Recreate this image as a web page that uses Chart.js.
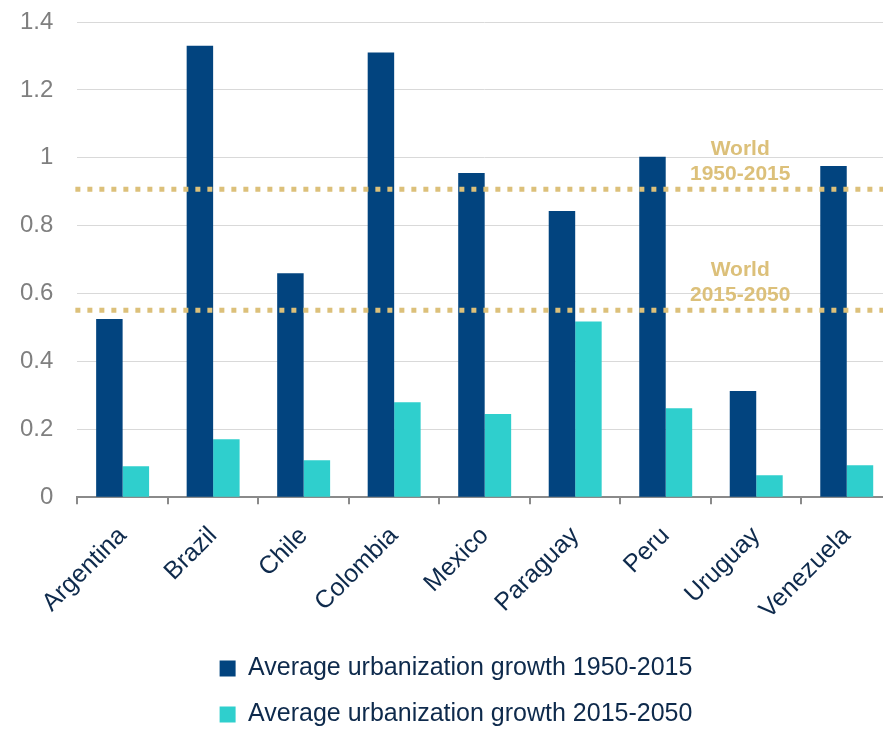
<!DOCTYPE html>
<html>
<head>
<meta charset="utf-8">
<script src="https://cdn.jsdelivr.net/npm/chart.js@4"></script>
<style>
	html, body { margin: 0; padding: 0; background: #fff; overflow: hidden; }
	#wrap { width: 900px; height: 729px; }
</style>
</head>
<body>
<div id="wrap"><canvas id="myChart"></canvas></div>
<script>
// countries on the x axis
const countries = ['Argentina', 'Brazil', 'Chile', 'Colombia', 'Mexico', 'Paraguay', 'Peru', 'Uruguay', 'Venezuela']
// average urbanization growth, % per year
const growth1950to2015 = [0.525, 1.33, 0.66, 1.31, 0.955, 0.843, 1.003, 0.313, 0.976]
const growth2015to2050 = [0.091, 0.171, 0.109, 0.28, 0.245, 0.518, 0.262, 0.065, 0.094]
// world reference levels
const worldLevels = [0.907, 0.551]
const worldLabels = [['World', '1950-2015'], ['World', '2015-2050']]
const seriesNames = ['Average urbanization growth 1950-2015', 'Average urbanization growth 2015-2050']

const gold = '#dcc07a'
const navyText = '#0e2a4c'

// dotted world lines + their labels
const worldLines = {
	id: 'worldLines',
	afterDatasetsDraw(chart) {
		const { ctx, chartArea, scales } = chart
		const labelX = scales.x.getPixelForValue(7) - 16
		ctx.save()
		worldLevels.forEach((v, i) => {
			const y = scales.y.getPixelForValue(v)
			ctx.beginPath()
			ctx.setLineDash([5, 7])
			ctx.lineWidth = 5
			ctx.strokeStyle = gold
			ctx.moveTo(chartArea.left - 2, y)
			ctx.lineTo(chartArea.right, y)
			ctx.stroke()

			ctx.setLineDash([])
			ctx.fillStyle = gold
			ctx.font = 'bold 21px "Liberation Sans", Arial, sans-serif'
			ctx.textAlign = 'center'
			ctx.textBaseline = 'alphabetic'
			ctx.fillText(worldLabels[i][0], labelX, y - 34)
			ctx.fillText(worldLabels[i][1], labelX, y - 9)
		})
		ctx.restore()
	},
}

Chart.defaults.font.family = '"Liberation Sans", Arial, sans-serif'

const ctx = document.getElementById('myChart').getContext('2d')
const myChart = new Chart(ctx, {
	type: 'bar',
	data: {
		labels: countries,
		datasets: [
			{
				label: seriesNames[0],
				data: growth1950to2015,
				backgroundColor: '#02447f',
				categoryPercentage: 0.585,
				barPercentage: 1.0,
			},
			{
				label: seriesNames[1],
				data: growth2015to2050,
				backgroundColor: '#2fcfcd',
				categoryPercentage: 0.585,
				barPercentage: 1.0,
			},
		],
	},
	options: {
		responsive: true,
		maintainAspectRatio: false,
		animation: false,
		layout: {
			padding: { left: 20, right: 8, top: 22, bottom: -8 },
		},
		plugins: {
			tooltip: { enabled: false },
			legend: {
				position: 'bottom',
				labels: {
					color: navyText,
					font: { size: 25 },
					boxWidth: 16,
					boxHeight: 16,
					padding: 21,
				},
			},
		},
		scales: {
			y: {
				min: 0,
				max: 1.4,
				ticks: {
					stepSize: 0.2,
					color: '#7f7f7f',
					font: { size: 24 },
					padding: 24,
					callback: (v) => String(Number(v.toFixed(1))),
				},
				grid: {
					color: '#d9d9d9',
					lineWidth: 1,
					drawTicks: false,
				},
				border: { display: false },
				// padding is counted twice in the width, take one back
				afterFit: (scale) => {
					scale.width -= 24
					scale.paddingTop = 0
					scale.paddingBottom = 0
				},
			},
			x: {
				ticks: {
					color: navyText,
					font: { size: 25 },
					maxRotation: 45,
					minRotation: 45,
					padding: 17,
				},
				grid: {
					drawOnChartArea: false,
					drawTicks: true,
					tickLength: 7,
					color: '#8a8a8a',
					lineWidth: 2,
				},
				border: { color: '#8a8a8a', width: 2 },
				afterFit: (scale) => {
					scale.paddingLeft = 0
					scale.paddingRight = 0
					scale.height -= 7
				},
			},
		},
	},
	plugins: [worldLines],
})
</script>
</body>
</html>
